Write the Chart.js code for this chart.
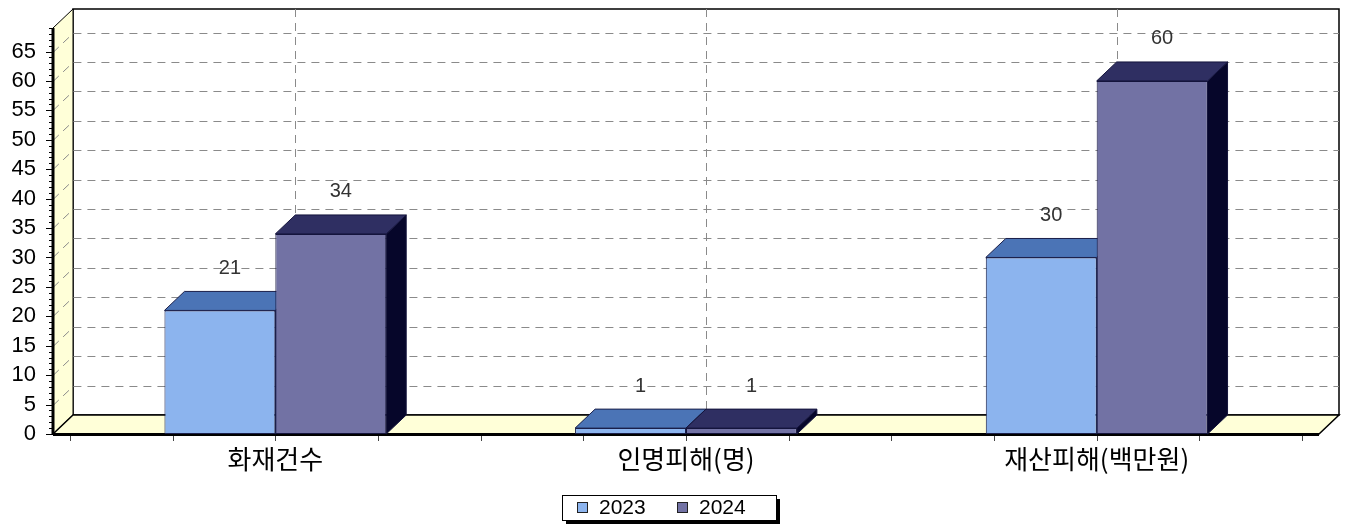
<!DOCTYPE html>
<html>
<head>
<meta charset="utf-8">
<script src="https://cdn.jsdelivr.net/npm/chart.js@4.4.1/dist/chart.umd.min.js"></script>
<style>
  html, body { margin: 0; padding: 0; background: #fff; }
  #wrap { width: 1352px; height: 527px; position: relative; }
</style>
</head>
<body>
<div id="wrap"><canvas id="fireChart"></canvas></div>
<script>
// data
const categories = ["화재건수", "인명피해(명)", "재산피해(백만원)"];
const seriesNames = ["2023", "2024"];
const values2023 = [21, 1, 30];
const values2024 = [34, 1, 60];
const yTickValues = [0, 5, 10, 15, 20, 25, 30, 35, 40, 45, 50, 55, 60, 65];
const yMax = 69;

// look of the fake 3d box
const DX = 20;   // depth offset right
const DY = 19;   // depth offset up
const EXT = 17;  // floor extends beyond the category band
const faces = [
  { front: "#8cb4ee", top: "#4b74b6", side: "#202a60", border: "#1a1f4a" },
  { front: "#7272a4", top: "#2f2f62", side: "#06062a", border: "#14143c" }
];

function poly(ctx, pts, fill, stroke, lw) {
  ctx.beginPath();
  ctx.moveTo(pts[0][0], pts[0][1]);
  for (let i = 1; i < pts.length; i++) ctx.lineTo(pts[i][0], pts[i][1]);
  ctx.closePath();
  if (fill) { ctx.fillStyle = fill; ctx.fill(); }
  if (stroke) { ctx.lineWidth = lw || 1; ctx.strokeStyle = stroke; ctx.stroke(); }
}

const boxPlugin = {
  id: "box3d",
  beforeDatasetsDraw(chart) {
    const { ctx, chartArea: a, scales } = chart;
    const y = scales.y;
    const L = a.left - EXT, R = a.right + EXT, T = a.top, B = a.bottom;
    ctx.save();

    // back wall
    poly(ctx, [[L + DX, T - DY], [R + DX, T - DY], [R + DX, B - DY], [L + DX, B - DY]], "#fff", "#000", 1.5);
    // left wall
    poly(ctx, [[L, B], [L, T], [L + DX, T - DY], [L + DX, B - DY]], "#ffffd8", "#000", 1);
    // floor
    poly(ctx, [[L, B], [R, B], [R + DX, B - DY], [L + DX, B - DY]], "#ffffd8", "#000", 1.5);

    // dashed grid
    ctx.setLineDash([8, 6]);
    ctx.strokeStyle = "#8a8a8a";
    ctx.lineWidth = 1;
    yTickValues.forEach(v => {
      if (v === 0) return;
      const py = Math.round(y.getPixelForValue(v)) + 0.5;
      ctx.beginPath();
      ctx.moveTo(L, py);
      ctx.lineTo(L + DX, py - DY);
      ctx.lineTo(R + DX, py - DY);
      ctx.stroke();
    });
    categories.forEach((c, i) => {
      const px = Math.round(scales.x.getPixelForValue(i)) + DX + 0.5;
      ctx.beginPath();
      ctx.moveTo(px, T - DY);
      ctx.lineTo(px, B - DY);
      ctx.stroke();
    });
    ctx.setLineDash([]);

    // floor front edge and y axis
    ctx.strokeStyle = "#000";
    ctx.lineWidth = 3;
    ctx.beginPath();
    ctx.moveTo(L, B + 0.5);
    ctx.lineTo(R, B + 0.5);
    ctx.stroke();
    ctx.beginPath();
    ctx.moveTo(L, T);
    ctx.lineTo(L, B + 1);
    ctx.stroke();
    ctx.lineWidth = 1;
    for (let v = 0; v <= yMax; v++) {
      const py = Math.round(y.getPixelForValue(v)) + 0.5;
      const len = v % 5 === 0 ? 6 : 3;
      ctx.beginPath();
      ctx.moveTo(L - 1 - len, py);
      ctx.lineTo(L - 1, py);
      ctx.stroke();
    }

    // category quarter ticks
    ctx.strokeStyle = "#444";
    const step = (a.right - a.left) / (categories.length * 4);
    for (let k = 0; k <= categories.length * 4; k++) {
      const px = Math.round(a.left + k * step) + 0.5;
      ctx.beginPath();
      ctx.moveTo(px, B + 2);
      ctx.lineTo(px, B + 7);
      ctx.stroke();
    }

    // top and side faces, drawn under the front faces
    chart.data.datasets.forEach((ds, di) => {
      const meta = chart.getDatasetMeta(di);
      const f = faces[di];
      meta.data.forEach(bar => {
        const { x, y: top, width, base } = bar.getProps(["x", "y", "width", "base"], true);
        const l = x - width / 2, r = x + width / 2;
        poly(ctx, [[r, top], [r + DX, top - DY], [r + DX, base - DY], [r, base]], f.side, f.border, 1);
        poly(ctx, [[l, top], [l + DX, top - DY], [r + DX, top - DY], [r, top]], f.top, f.border, 1);
      });
    });
    ctx.restore();
  },
  afterDatasetsDraw(chart) {
    const { ctx } = chart;
    ctx.save();
    ctx.font = "20px 'Liberation Sans'";
    ctx.fillStyle = "#333";
    ctx.textAlign = "center";
    ctx.textBaseline = "middle";
    chart.data.datasets.forEach((ds, di) => {
      chart.getDatasetMeta(di).data.forEach((bar, i) => {
        const { x, y } = bar.getProps(["x", "y"], true);
        ctx.fillText(String(ds.data[i]), x + DX / 2, y - DY - 23);
      });
    });
    ctx.restore();
  },
  afterDraw(chart) {
    // legend box with drop shadow
    const { ctx } = chart;
    const bx = 562, by = 495, bw = 214, bh = 25;
    ctx.save();
    ctx.fillStyle = "#000";
    ctx.fillRect(bx + 4, by + 4, bw, bh);
    ctx.fillStyle = "#fff";
    ctx.fillRect(bx, by, bw, bh);
    ctx.strokeStyle = "#000";
    ctx.lineWidth = 1;
    ctx.strokeRect(bx + 0.5, by + 0.5, bw, bh);
    ctx.font = "21px 'Liberation Sans'";
    ctx.textBaseline = "middle";
    ctx.fillStyle = "#000";
    const offsets = [15, 115];
    chart.data.datasets.forEach((ds, di) => {
      const sx = bx + offsets[di];
      ctx.fillStyle = faces[di].front;
      ctx.fillRect(sx, by + 7, 11, 11);
      ctx.strokeStyle = "#222";
      ctx.strokeRect(sx + 0.5, by + 7.5, 10, 10);
      ctx.fillStyle = "#000";
      ctx.fillText(ds.label, sx + 22, by + bh / 2 + 1);
    });
    ctx.restore();
  }
};

new Chart(document.getElementById("fireChart"), {
  type: "bar",
  data: {
    labels: categories,
    datasets: [
      {
        label: seriesNames[0],
        data: values2023,
        backgroundColor: faces[0].front,
        borderColor: faces[0].border,
        borderWidth: 1,
        borderSkipped: false
      },
      {
        label: seriesNames[1],
        data: values2024,
        backgroundColor: faces[1].front,
        borderColor: faces[1].border,
        borderWidth: 1,
        borderSkipped: false
      }
    ]
  },
  options: {
    responsive: true,
    maintainAspectRatio: false,
    devicePixelRatio: 1,
    animation: false,
    layout: { padding: { top: 28, right: 50, left: 0, bottom: 0 } },
    categoryPercentage: 0.54,
    barPercentage: 1,
    plugins: {
      legend: { display: false },
      tooltip: { enabled: false }
    },
    scales: {
      x: {
        grid: { display: false, drawTicks: false },
        border: { display: false },
        ticks: {
          padding: 10,
          color: "#000",
          font: { family: "'Noto Sans CJK KR'", size: 26 }
        },
        afterFit(scale) {
          scale.height = 93;
          scale.paddingLeft = 0;
          scale.paddingRight = 0;
        }
      },
      y: {
        min: 0,
        max: yMax,
        grid: { display: false, drawTicks: false },
        border: { display: false },
        ticks: {
          stepSize: 5,
          padding: 34,
          color: "#000",
          font: { family: "'Liberation Sans'", size: 22 }
        },
        afterBuildTicks(scale) {
          scale.ticks = yTickValues.map(v => ({ value: v }));
        },
        afterFit(scale) {
          scale.width = 70;
          scale.paddingTop = 0;
          scale.paddingBottom = 0;
        }
      }
    }
  },
  plugins: [boxPlugin]
});
</script>
</body>
</html>
